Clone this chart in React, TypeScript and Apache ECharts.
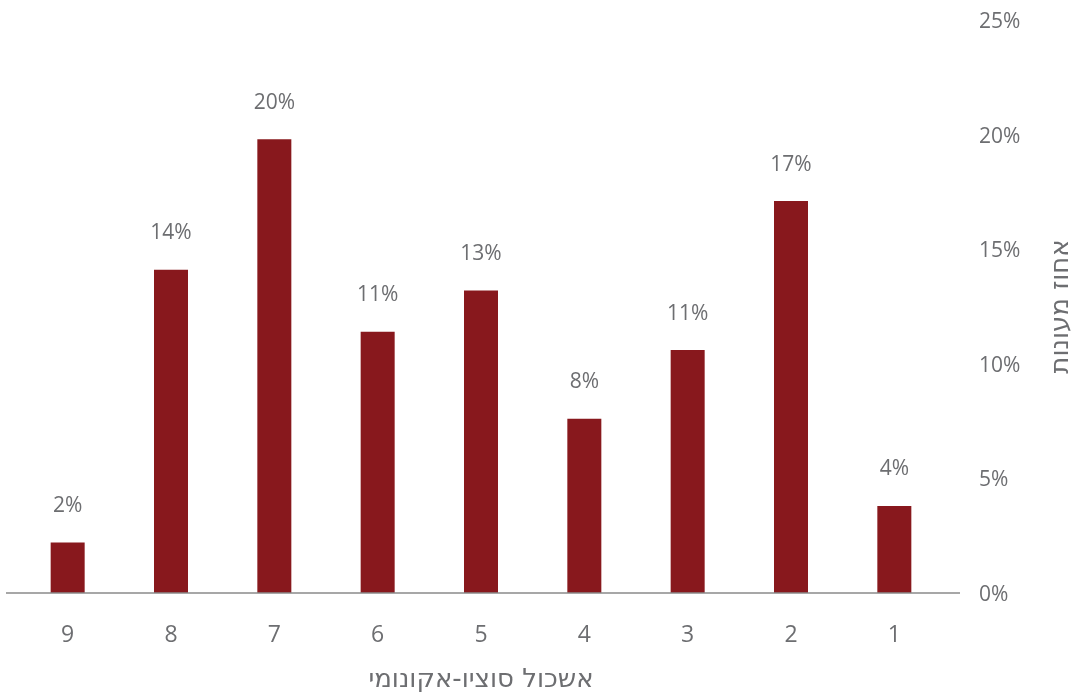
import React, { useEffect, useRef } from "react";
import * as echarts from "echarts";

const categories = ["9", "8", "7", "6", "5", "4", "3", "2", "1"];
const values = [2.2, 14.1, 19.8, 11.4, 13.2, 7.6, 10.6, 17.1, 3.8];
const yTicks = { min: 0, max: 25, interval: 5 };
const xName = "אשכול סוציו-אקונומי";
const yName = "אחוז מעונות";

const FONT = "'Open Sans', 'DejaVu Sans', sans-serif";
const NAME_FONT = "'DejaVu Sans', 'Open Sans', sans-serif";
const GRAY = "#6d6e71";

export default function App() {
  const ref = useRef<HTMLDivElement>(null);
  useEffect(() => {
    if (!ref.current) return;
    const chart = echarts.init(ref.current, null, { renderer: "svg" });
    chart.setOption({
      animation: false,
      textStyle: { fontFamily: FONT },
      grid: { left: 16, right: 130, top: 20, bottom: 99 },
      xAxis: {
        type: "category",
        data: categories,
        axisLine: { show: false },
        axisTick: { show: false },
        axisLabel: { color: GRAY, fontSize: 23, margin: 28, fontFamily: FONT },
        name: xName,
        nameLocation: "middle",
        nameGap: 72,
        nameTextStyle: { color: GRAY, fontSize: 26, fontFamily: NAME_FONT },
      },
      yAxis: {
        type: "value",
        position: "right",
        min: yTicks.min,
        max: yTicks.max,
        interval: yTicks.interval,
        axisLine: { show: false },
        axisTick: { show: false },
        splitLine: { show: false },
        axisLabel: {
          color: GRAY,
          fontSize: 21,
          margin: 33,
          fontFamily: FONT,
          formatter: "{value}%",
        },
        name: yName,
        nameLocation: "middle",
        nameRotate: 90,
        nameGap: 100,
        nameTextStyle: { color: GRAY, fontSize: 26, fontFamily: NAME_FONT },
      },
      series: [
        {
          type: "bar",
          data: values,
          barWidth: 34,
          itemStyle: { color: "#88181d" },
          label: {
            show: true,
            position: "top",
            distance: 28,
            color: GRAY,
            fontSize: 21,
            fontFamily: FONT,
            formatter: (p: any) => Math.round(p.value) + "%",
          },
        },
      ],
    });
    // baseline extending a bit beyond the category bands, as in the reference
    const y0 = chart.convertToPixel({ yAxisIndex: 0 }, 0) as number;
    const xFirst = chart.convertToPixel({ xAxisIndex: 0 }, categories[0]) as number;
    const xLast = chart.convertToPixel(
      { xAxisIndex: 0 },
      categories[categories.length - 1]
    ) as number;
    const band = (xLast - xFirst) / (categories.length - 1);
    chart.setOption({
      graphic: [
        {
          type: "line",
          z: 10,
          shape: {
            x1: xFirst - band / 2 - 10,
            y1: y0,
            x2: xLast + band / 2 + 14,
            y2: y0,
          },
          style: { stroke: "#8a8a8a", lineWidth: 1.6 },
        },
      ],
    });
    return () => chart.dispose();
  }, []);
  return (
    <div
      ref={ref}
      style={{ position: "fixed", left: 0, top: 0, width: 1080, height: 696 }}
    />
  );
}
